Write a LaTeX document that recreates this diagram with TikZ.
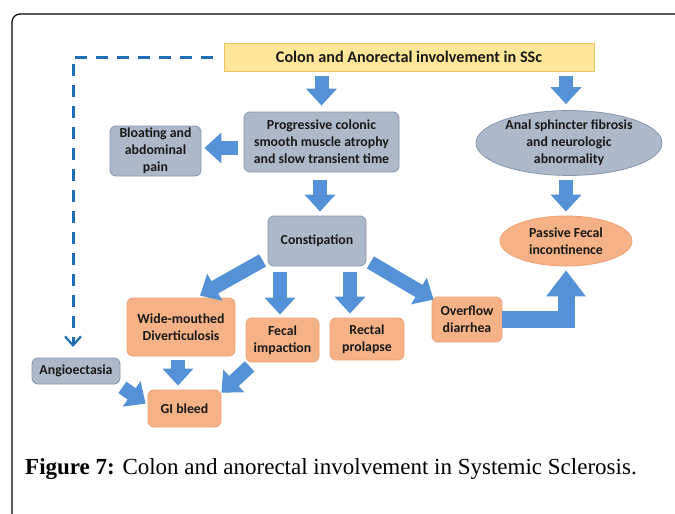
\documentclass[tikz,border=0pt]{standalone}
\usepackage{fontspec}
\setmainfont{Liberation Serif}
\newfontfamily\boxfont{Carlito}
\usetikzlibrary{arrows.meta,shapes.geometric,calc}
\definecolor{gbfill}{RGB}{173,185,202}
\definecolor{gbdraw}{RGB}{132,151,176}
\definecolor{orfill}{RGB}{245,178,134}
\definecolor{ordraw}{RGB}{240,160,115}
\definecolor{yefill}{RGB}{255,230,153}
\definecolor{yedraw}{RGB}{235,195,95}
\definecolor{ablue}{RGB}{84,145,214}
\definecolor{dblue}{RGB}{30,110,180}
\definecolor{txt}{RGB}{25,25,25}
\begin{document}
\begin{tikzpicture}[x=1pt,y=-1pt,
  box/.style={rounded corners=6pt, inner sep=0pt, align=center, text=txt,
    font=\boxfont\bfseries\fontsize{13.8}{17}\selectfont, line width=0.8pt},
  gbox/.style={box, fill=gbfill, draw=gbdraw},
  obox/.style={box, fill=orfill, draw=ordraw},
  gell/.style={ellipse, inner sep=0pt, align=center, text=txt, fill=gbfill, draw=gbdraw,
    font=\boxfont\bfseries\fontsize{13.8}{17}\selectfont, line width=0.8pt},
  oell/.style={gell, fill=orfill, draw=ordraw},
  barrow/.style={draw=ablue, line width=14pt, -{Triangle[width=30pt,length=17pt]}},
  dasharrow/.style={draw=dblue, line width=3pt, dash pattern=on 12pt off 9pt,
    -{Straight Barb[length=9pt,width=16pt,line width=2.2pt]}}
]
\useasboundingbox (0,0) rectangle (675,514);
\fill[white] (0,0) rectangle (675,514);
\draw[line width=1.2pt, rounded corners=8pt] (12,520) -- (12,14) -- (680,14);

\node[box, fill=yefill, draw=yedraw, rounded corners=0pt, minimum width=370pt, minimum height=28pt,
  font=\boxfont\bfseries\fontsize{16.2}{18}\selectfont] (title) at (409,57) {Colon and Anorectal involvement in SSc};
\node[gbox, minimum width=155pt, minimum height=60pt] (prog) at (321.5,142)
  {Progressive colonic\\smooth muscle atrophy\\and slow transient time};
\node[gbox, minimum width=91pt, minimum height=50pt] (bloat) at (155.5,151) {Bloating and\\abdominal\\pain};
\node[gell, minimum width=186pt, minimum height=62pt] (anal) at (569,143)
  {Anal sphincter fibrosis\\and neurologic\\abnormality};
\node[gbox, minimum width=98pt, minimum height=50pt] (constip) at (317,241) {Constipation};
\node[oell, minimum width=132pt, minimum height=50pt] (passive) at (566,241) {Passive Fecal\\incontinence};
\node[obox, minimum width=108pt, minimum height=58pt] (wide) at (181,327) {Wide-mouthed\\Diverticulosis};
\node[obox, minimum width=73pt, minimum height=44pt] (fecal) at (282.5,340) {Fecal\\impaction};
\node[obox, minimum width=74pt, minimum height=42pt] (rectal) at (367,339) {Rectal\\prolapse};
\node[obox, minimum width=70pt, minimum height=45pt] (overflow) at (467,319.5) {Overflow\\diarrhea};
\node[gbox, minimum width=88pt, minimum height=26pt] (angio) at (76,371) {Angioectasia};
\node[obox, minimum width=73pt, minimum height=37pt] (gi) at (184.5,408.5) {GI bleed};

\coordinate (dashend) at (73,347);
\draw[dasharrow, shorten <=11pt] (title.west) -| (dashend);

\draw[barrow, shorten <=5pt, shorten >=6pt] (title.south -| prog.north) -- (prog.north);
\draw[barrow, shorten <=5pt, shorten >=6pt] (title.south -| 566,0) -- (anal.north -| 566,0);
\draw[barrow, shorten <=6pt, shorten >=3pt] (prog.west |- 0,148) -- (bloat.east |- 0,148);
\draw[barrow, shorten <=8pt, shorten >=4pt] (prog.south -| 320,0) -- (constip.north -| 320,0);
\draw[barrow, shorten <=4pt, shorten >=4pt] (anal.south -| 566,0) -- (passive.north);
\draw[barrow] ($(constip.south west)+(-5,-6)$) -- ($(wide.north)+(19,-2)$);
\draw[barrow] ($(constip.south east)+(4,-4)$) -- ($(overflow.north west)+(2,3)$);
\draw[barrow, shorten <=6pt, shorten >=3pt] (constip.south -| 280,0) -- (fecal.north -| 280,0);
\draw[barrow, shorten <=6pt, shorten >=4pt] (constip.south -| 350,0) -- (rectal.north -| 350,0);
\draw[barrow, shorten <=4pt, shorten >=4pt] (wide.south -| 178,0) -- (gi.north -| 178,0);
\draw[barrow] ($(angio.south east)+(2,3)$) -- ($(gi.north west)+(-2,14)$);
\draw[barrow] ($(fecal.south west)+(4,4)$) -- ($(gi.north east)+(0,3)$);
\draw[barrow, line width=17pt, line join=miter, -{Triangle[width=38pt,length=26pt]}, shorten >=4pt]
  (overflow.east) -| (passive.south);

\node[anchor=base west, inner sep=0pt, font=\fontsize{23}{26}\selectfont] (caption) at (25,474)
  {\textbf{Figure 7:} Colon and anorectal involvement in Systemic Sclerosis.};
\end{tikzpicture}
\end{document}
